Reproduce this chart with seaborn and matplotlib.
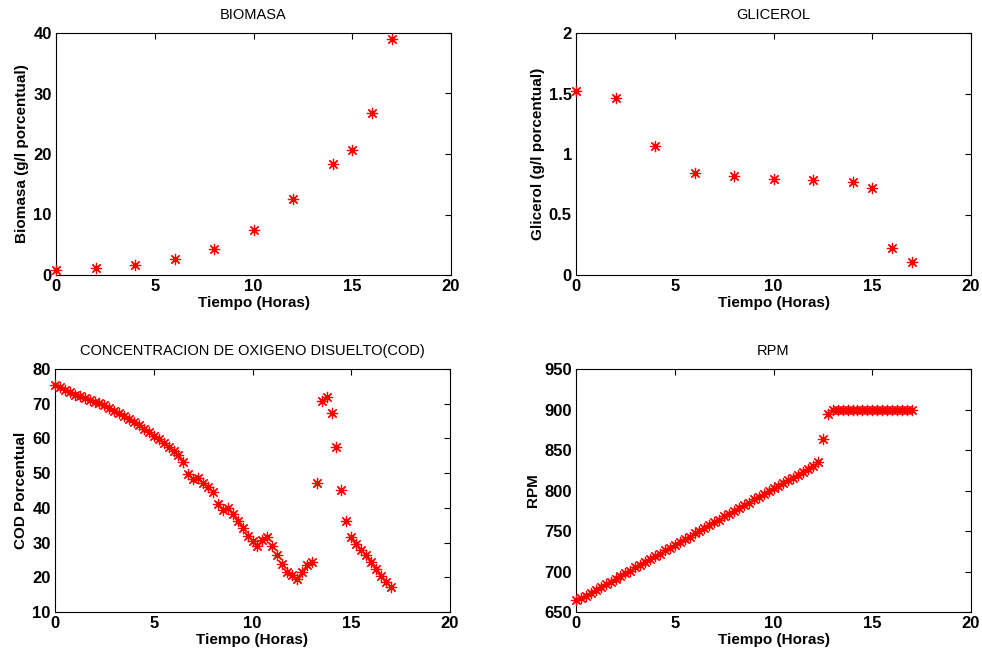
import matplotlib
matplotlib.use("Agg")
import matplotlib.pyplot as plt
from matplotlib.ticker import FormatStrFormatter
import seaborn as sns
import pandas as pd

# ---- data ----
t_muestras = [0, 2, 4, 6, 8, 10, 12, 14, 15, 16, 17]
biomasa = [0.9, 1.2, 1.65, 2.7, 4.25, 7.4, 12.5, 18.4, 20.7, 26.8, 39.0]
glicerol = [1.517, 1.465, 1.068, 0.844, 0.822, 0.797, 0.783, 0.770, 0.723, 0.221, 0.105]

t_continuo = [0.0, 0.25, 0.5, 0.75, 1.0, 1.25, 1.5, 1.75, 2.0, 2.25, 2.5, 2.75,
              3.0, 3.25, 3.5, 3.75, 4.0, 4.25, 4.5, 4.75, 5.0, 5.25, 5.5, 5.75,
              6.0, 6.25, 6.5, 6.75, 7.0, 7.25, 7.5, 7.75, 8.0, 8.25, 8.5, 8.75,
              9.0, 9.25, 9.5, 9.75, 10.0, 10.25, 10.5, 10.75, 11.0, 11.25, 11.5,
              11.75, 12.0, 12.25, 12.5, 12.75, 13.0, 13.25, 13.5, 13.75, 14.0,
              14.25, 14.5, 14.75, 15.0, 15.25, 15.5, 15.75, 16.0, 16.25, 16.5,
              16.75, 17.0]
cod = [75.3, 74.7, 74.0, 73.3, 72.6, 72.1, 71.6, 71.1, 70.6, 70.2, 69.7, 68.9,
       68.0, 67.2, 66.4, 65.5, 64.6, 63.8, 62.8, 61.8, 60.8, 59.7, 58.7, 57.6,
       56.4, 55.2, 53.2, 49.8, 48.3, 48.5, 47.1, 46.1, 44.7, 41.0, 39.4, 39.9,
       38.1, 36.2, 34.1, 32.0, 30.4, 29.0, 30.7, 31.7, 29.0, 26.4, 23.7,
       21.6, 20.8, 19.4, 21.4, 23.5, 24.3, 47.3, 70.7, 71.8, 67.3,
       57.5, 45.2, 36.1, 31.7, 29.6, 28.0, 26.4, 24.3, 22.3, 20.3,
       18.7, 17.2]
rpm = [665, 667, 670, 674, 677, 681, 684, 687, 691, 694, 698, 701,
       705, 708, 712, 715, 719, 722, 726, 729, 733, 736, 740, 743,
       747, 750, 754, 757, 761, 764, 768, 771, 775, 778, 782, 785,
       789, 792, 796, 799, 803, 806, 809, 813, 816, 819, 823,
       826, 830, 835, 863, 895, 900, 900, 900, 900, 900,
       900, 900, 900, 900, 900, 900, 900, 900, 900, 900,
       900, 900]

sns.set_theme(style="white")
plt.rcParams['font.family'] = ['Liberation Sans', 'DejaVu Sans']

fig = plt.figure(figsize=(9.82, 6.53), dpi=100)
W, H = 982, 653

def ax_at(x0, x1, ytop, ybot):
    return fig.add_axes([x0 / W, (H - ybot) / H, (x1 - x0) / W, (ybot - ytop) / H])

axes_spec = [
    dict(pos=(56, 451, 33, 275), x=t_muestras, y=biomasa, title="BIOMASA",
         ylabel="Biomasa (g/l porcentual)", ylim=(0, 40), yticks=[0, 10, 20, 30, 40]),
    dict(pos=(576, 971, 33, 275), x=t_muestras, y=glicerol, title="GLICEROL",
         ylabel="Glicerol (g/l porcentual)", ylim=(0, 2), yticks=[0, 0.5, 1, 1.5, 2]),
    dict(pos=(55, 450, 369, 612), x=t_continuo, y=cod,
         title="CONCENTRACION DE OXIGENO DISUELTO(COD)",
         ylabel="COD Porcentual", ylim=(10, 80), yticks=[10, 20, 30, 40, 50, 60, 70, 80]),
    dict(pos=(576, 971, 369, 612), x=t_continuo, y=rpm, title="RPM",
         ylabel="RPM", ylim=(650, 950), yticks=[650, 700, 750, 800, 850, 900, 950]),
]

for spec in axes_spec:
    ax = ax_at(*spec["pos"])
    df = pd.DataFrame({"t": spec["x"], "v": spec["y"]})
    sns.scatterplot(data=df, x="t", y="v", ax=ax, marker=(8, 2, 0), color="red",
                    s=55, linewidth=0.9, legend=False, clip_on=False, zorder=3)
    ax.set_xlim(0, 20)
    ax.set_xticks([0, 5, 10, 15, 20])
    ax.set_ylim(*spec["ylim"])
    ax.set_yticks(spec["yticks"])
    ax.yaxis.set_major_formatter(FormatStrFormatter('%g'))
    ax.tick_params(direction="in", length=4, width=0.8, top=True, right=True,
                   labelsize=12, colors="black", pad=3)
    for lab in ax.get_xticklabels() + ax.get_yticklabels():
        lab.set_fontweight("bold")
    for sp in ax.spines.values():
        sp.set_color("black")
        sp.set_linewidth(0.8)
    ax.set_title(spec["title"], fontsize=10.5, pad=10, color="black")
    ax.set_xlabel("Tiempo (Horas)", fontsize=11, fontweight="bold", labelpad=1, color="black")
    ax.set_ylabel(spec["ylabel"], fontsize=11, fontweight="bold", labelpad=3, color="black")

fig.savefig("out.png", dpi=100, facecolor="white")
